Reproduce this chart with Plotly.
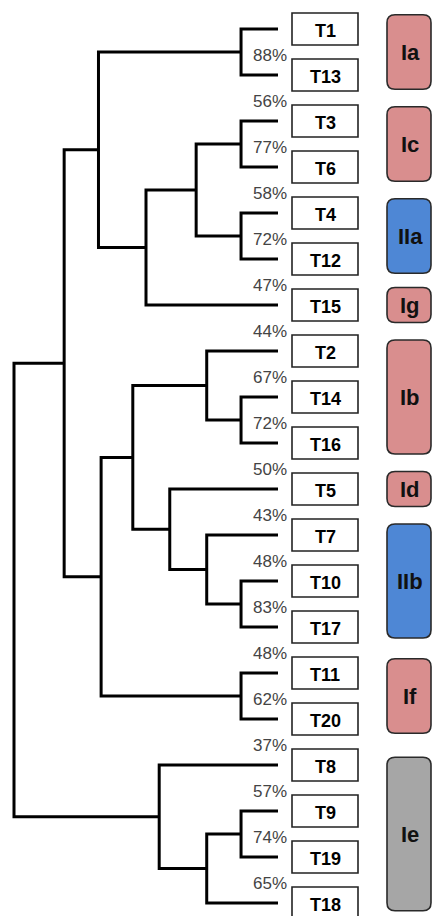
import plotly.graph_objects as go

# Leaf order (top to bottom)
leaves = ["T1", "T13", "T3", "T6", "T4", "T12", "T15", "T2", "T14", "T16",
          "T5", "T7", "T10", "T17", "T11", "T20", "T8", "T9", "T19", "T18"]

# Similarity (%) between neighbouring leaves
neighbour_similarity = [88, 56, 77, 58, 72, 47, 44, 67, 72, 50,
                        43, 48, 83, 48, 62, 37, 57, 74, 65]

# Agglomeration steps: children (leaf name or step index) and merge distance
merge_left = ["T1", "T3", "T4", 1, 3, 0, "T14", "T2", "T10", "T7",
              "T5", 7, "T11", 11, 5, "T9", 15, "T8", 14]
merge_right = ["T13", "T6", "T12", 2, "T15", 4, "T16", 6, "T17", 8,
               9, 10, "T20", 12, 13, "T19", "T18", 16, 17]
merge_height = [0.14, 0.14, 0.14, 0.31, 0.50, 0.68, 0.14, 0.27, 0.14, 0.27,
                0.41, 0.55, 0.14, 0.67, 0.81, 0.14, 0.27, 0.45, 1.00]

# Clusters shown at the right
group_names = ["Ia", "Ic", "IIa", "Ig", "Ib", "Id", "IIb", "If", "Ie"]
group_first = ["T1", "T3", "T4", "T15", "T2", "T5", "T7", "T11", "T8"]
group_last = ["T13", "T6", "T12", "T15", "T16", "T5", "T17", "T20", "T18"]
group_family = ["I", "I", "II", "I", "I", "I", "II", "I", "E"]

FAMILY_COLORS = {"I": "#D98E8E", "II": "#4E87D5", "E": "#A6A6A6"}
FONT = "Liberation Sans, Arial, sans-serif"

W, H = 432, 916
LEAF_PX, ROOT_PX = 278, 14          # horizontal pixel of distance 0 and 1
TOP_PX, STEP_PX = 29, 46            # vertical pixel of first leaf, leaf spacing
unit_x = LEAF_PX - ROOT_PX          # pixels per unit distance


def px_x(px):
    return px / W


leaf_pos = {name: i for i, name in enumerate(leaves)}

# Node coordinates: (distance, vertical position)
node_xy = {}


def coord(ref):
    if isinstance(ref, str):
        return 0.0, float(leaf_pos[ref])
    return node_xy[ref]


xs, ys = [], []
for k, (a, b, h) in enumerate(zip(merge_left, merge_right, merge_height)):
    xa, ya = coord(a)
    xb, yb = coord(b)
    xs += [xa, h, h, xb, None]
    ys += [ya, ya, yb, yb, None]
    node_xy[k] = (h, (ya + yb) / 2)

fig = go.Figure()
fig.add_trace(go.Scatter(
    x=xs, y=ys, mode="lines",
    line=dict(color="black", width=3),
    hoverinfo="skip", showlegend=False,
))

shapes, annotations = [], []
half_box = 16 / STEP_PX

# Leaf name boxes
for i, name in enumerate(leaves):
    shapes.append(dict(
        type="rect", xref="paper", yref="y",
        x0=px_x(292), x1=px_x(358), y0=i - half_box, y1=i + half_box,
        line=dict(color="#222222", width=1.6), fillcolor="white", layer="below",
    ))
    annotations.append(dict(
        x=px_x(325), y=i + 0.04, xref="paper", yref="y", text=f"<b>{name}</b>",
        showarrow=False, xanchor="center", yanchor="middle",
        font=dict(family=FONT, size=18, color="black"),
    ))

# Similarity labels between neighbouring leaves
for i, v in enumerate(neighbour_similarity):
    annotations.append(dict(
        x=px_x(289), y=i + 0.5 + 0.08, xref="paper", yref="y", text=f"{v}%",
        showarrow=False, xanchor="right", yanchor="middle",
        font=dict(family=FONT, size=17, color="#444444"),
    ))

# Rounded cluster boxes
gx0, gx1 = px_x(387), px_x(431)
rx, ry = 8 / W, 8 / STEP_PX
for name, first, last, fam in zip(group_names, group_first, group_last, group_family):
    a, b = leaf_pos[first], leaf_pos[last]
    n = b - a + 1
    centre = (a + b) / 2
    half = (0.86 * n - 0.1) / 2
    y0, y1 = centre - half, centre + half
    path = (
        f"M {gx0 + rx},{y0} L {gx1 - rx},{y0} Q {gx1},{y0} {gx1},{y0 + ry} "
        f"L {gx1},{y1 - ry} Q {gx1},{y1} {gx1 - rx},{y1} "
        f"L {gx0 + rx},{y1} Q {gx0},{y1} {gx0},{y1 - ry} "
        f"L {gx0},{y0 + ry} Q {gx0},{y0} {gx0 + rx},{y0} Z"
    )
    shapes.append(dict(
        type="path", xref="paper", yref="y", path=path,
        fillcolor=FAMILY_COLORS[fam], line=dict(color="#2a2a2a", width=1.6),
        layer="below",
    ))
    annotations.append(dict(
        x=px_x(410), y=centre, xref="paper", yref="y", text=f"<b>{name}</b>",
        showarrow=False, xanchor="center", yanchor="middle",
        font=dict(family=FONT, size=22, color="#111111"),
    ))

fig.update_layout(
    width=W, height=H,
    margin=dict(l=0, r=0, t=0, b=0),
    paper_bgcolor="white", plot_bgcolor="white",
    xaxis=dict(range=[LEAF_PX / unit_x, (LEAF_PX - W) / unit_x],
               visible=False, fixedrange=True),
    yaxis=dict(range=[(H - TOP_PX) / STEP_PX, -TOP_PX / STEP_PX],
               visible=False, fixedrange=True),
    shapes=shapes, annotations=annotations,
    showlegend=False,
)

fig.write_html("out.html")
